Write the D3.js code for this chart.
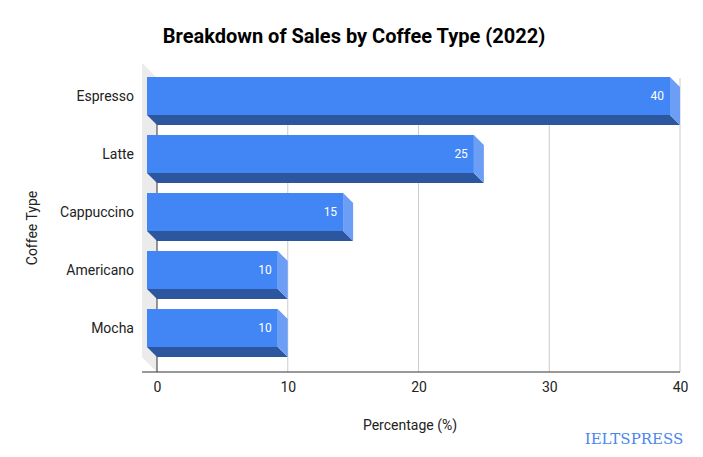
<!DOCTYPE html>
<html><head><meta charset="utf-8">
<script src="https://cdn.jsdelivr.net/npm/d3@7"></script>
<style>body{margin:0;background:#fff}svg{display:block}</style>
</head><body>
<script>
const categories = ["Espresso","Latte","Cappuccino","Americano","Mocha"];
const values = [40,25,15,10,10];
const xTicks = [0,10,20,30,40];
const title = "Breakdown of Sales by Coffee Type (2022)";

const W=703,H=457,depth=10;
const svg=d3.select("body").append("svg").attr("width",W).attr("height",H);
const x=d3.scaleLinear().domain([0,40]).range([157,680]);
const y=d3.scaleBand().domain(categories).range([77,347]).paddingInner(20/58).paddingOuter(0);
const bw=y.bandwidth();
const font="Roboto, 'Noto Sans', sans-serif";
const axisY=372;

// left wall
svg.append("polygon")
  .attr("points",[[x(0)-15,63],[x(0),78],[x(0),axisY],[x(0)-15,axisY-15]].map(p=>p.join(",")).join(" "))
  .attr("fill","#ebebeb");

// gridlines
svg.append("g").selectAll("line").data(xTicks.filter(t=>t>0)).join("line")
  .attr("x1",d=>x(d)).attr("x2",d=>x(d)).attr("y1",78).attr("y2",axisY)
  .attr("stroke","#cccccc").attr("stroke-width",1);
svg.append("line").attr("x1",x(0)).attr("x2",x(0)).attr("y1",78).attr("y2",axisY)
  .attr("stroke","#333").attr("stroke-width",1);

// x axis
const xAxis=d3.axisBottom(x).tickValues(xTicks).tickSize(0).tickPadding(10);
const gx=svg.append("g").attr("transform",`translate(0,${axisY})`).call(xAxis);
gx.select(".domain").remove();
gx.selectAll("text").attr("font-family",font).attr("font-size",14).attr("fill","#222");
svg.append("line").attr("x1",x(0)-15).attr("x2",x(40)).attr("y1",axisY).attr("y2",axisY)
  .attr("stroke","#333").attr("stroke-width",1.2);

// bars
const g=svg.append("g").selectAll("g").data(categories.map((c,i)=>({c,v:values[i]}))).join("g");
g.append("polygon").attr("points",d=>{
  const y0=y(d.c),x0=x(0),xv=x(d.v);
  return [[x0-depth,y0+bw],[xv-depth,y0+bw],[xv,y0+bw+depth],[x0,y0+bw+depth]].map(p=>p.join(",")).join(" ");
}).attr("fill","#2c579e");
g.append("polygon").attr("points",d=>{
  const y0=y(d.c),xv=x(d.v);
  return [[xv-depth,y0],[xv,y0+depth],[xv,y0+bw+depth],[xv-depth,y0+bw]].map(p=>p.join(",")).join(" ");
}).attr("fill","#6c9ef6");
g.append("rect").attr("x",x(0)-depth).attr("y",d=>y(d.c))
  .attr("width",d=>x(d.v)-x(0)).attr("height",bw).attr("fill","#4285f4");
g.append("text").attr("x",d=>x(d.v)-depth-6).attr("y",d=>y(d.c)+bw/2)
  .attr("dy","0.35em").attr("text-anchor","end").attr("font-family",font).attr("font-size",12)
  .attr("fill","#fff").text(d=>d.v);

// y labels
svg.append("g").selectAll("text").data(categories).join("text")
  .attr("x",134).attr("y",d=>y(d)+bw/2).attr("dy","0.35em").attr("text-anchor","end")
  .attr("font-family",font).attr("font-size",14).attr("fill","#222").text(d=>d);

// titles
svg.append("text").attr("x",354).attr("y",43).attr("text-anchor","middle")
  .attr("font-family",font).attr("font-weight","bold").attr("font-size",20).attr("fill","#000").text(title);
svg.append("text").attr("x",410).attr("y",430).attr("text-anchor","middle")
  .attr("font-family",font).attr("font-size",14).attr("fill","#222").text("Percentage (%)");
svg.append("text").attr("transform","translate(37,228) rotate(-90)").attr("text-anchor","middle")
  .attr("font-family",font).attr("font-size",14).attr("fill","#222").text("Coffee Type");
svg.append("text").attr("x",634).attr("y",444).attr("text-anchor","middle")
  .attr("font-family","'DejaVu Serif', 'Liberation Serif', serif").attr("font-size",15)
  .attr("fill","#4a86f0").text("IELTSPRESS");
</script>
</body></html>
